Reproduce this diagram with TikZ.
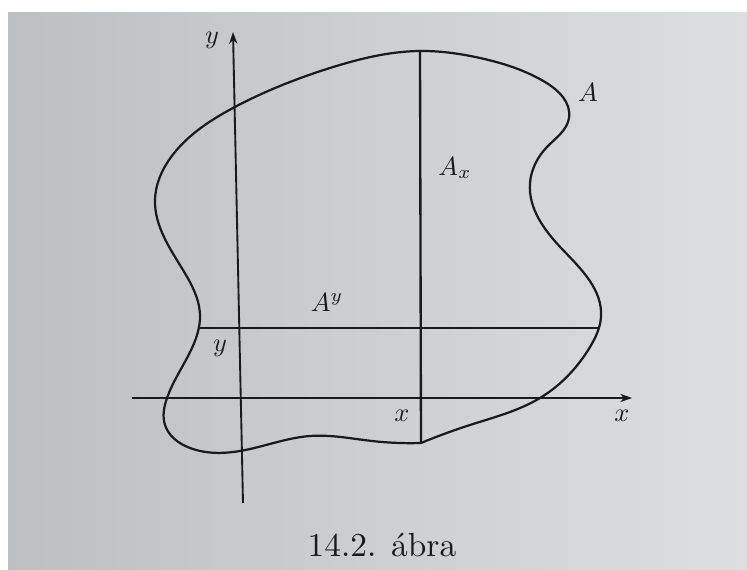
\documentclass[tikz,border=0pt]{standalone}
\usetikzlibrary{arrows.meta,hobby}
\definecolor{pageL}{HTML}{BDC0C0}
\definecolor{pageR}{HTML}{DCDFDF}
\definecolor{ink}{HTML}{1A1A1A}
\begin{document}
\begin{tikzpicture}[x=0.03cm,y=-0.03cm,
  line/.style={draw=ink,line width=1.9pt},
  axis/.style={draw=ink,line width=1.6pt,-{Stealth[length=10pt,width=7pt,inset=3pt]}},
  lbl/.style={text=ink,scale=2.25,inner sep=0pt}]
\useasboundingbox (0,0) rectangle (747,570);
% page (photo) background
\fill[white] (0,0) rectangle (747,570);
\shade[left color=pageL,right color=pageR] (8,13) rectangle (747,570);
% the region A
\draw[line,line join=round,use Hobby shortcut]
 (421,443) .. (470,425) .. (540,398) .. (590,347) .. (601,317) .. (563,250)
 .. (530,183) .. (547,147) .. (569,118) .. (545,82) .. (480,58) .. (420,51)
 .. (330,68) .. (233,108) .. (175,152) .. (155,200) .. (183,270) .. (200,316)
 .. (192,348) .. (167,398) .. (165,425) .. (190,448) .. (240,451) .. (310,436)
 .. (372,441) .. (421,443);
% axes
\coordinate (ybot) at (243,503);
\coordinate (ytop) at (233,32);
\coordinate (xleft) at (132,398);
\coordinate (xright) at (632,398);
\draw[axis] (ybot) -- (ytop);
\draw[axis] (xleft) -- (xright);
% sections
\coordinate (Axtop) at (420,51);
\coordinate (Axbot) at (421,443);
\coordinate (Ayleft) at (199,328);
\coordinate (Ayright) at (600,328);
\draw[line,line width=2pt] (Axtop) -- (Axbot);
\draw[line,line width=2pt] (Ayleft) -- (Ayright);
% labels
\node[lbl] (ylab) at (212,40) {$y$};
\node[lbl] (Alab) at (588,92) {$A$};
\node[lbl] (Axlab) at (455,168) {$A_x$};
\node[lbl] (Aylab) at (327,302) {$A^y$};
\node[lbl] (yval) at (220,348) {$y$};
\node[lbl] (xval) at (402,416) {$x$};
\node[lbl] (xlab) at (622,416) {$x$};
\node[text=ink,scale=2.85,inner sep=0pt] (cap) at (382,545) {14.2. ábra};
\end{tikzpicture}
\end{document}
